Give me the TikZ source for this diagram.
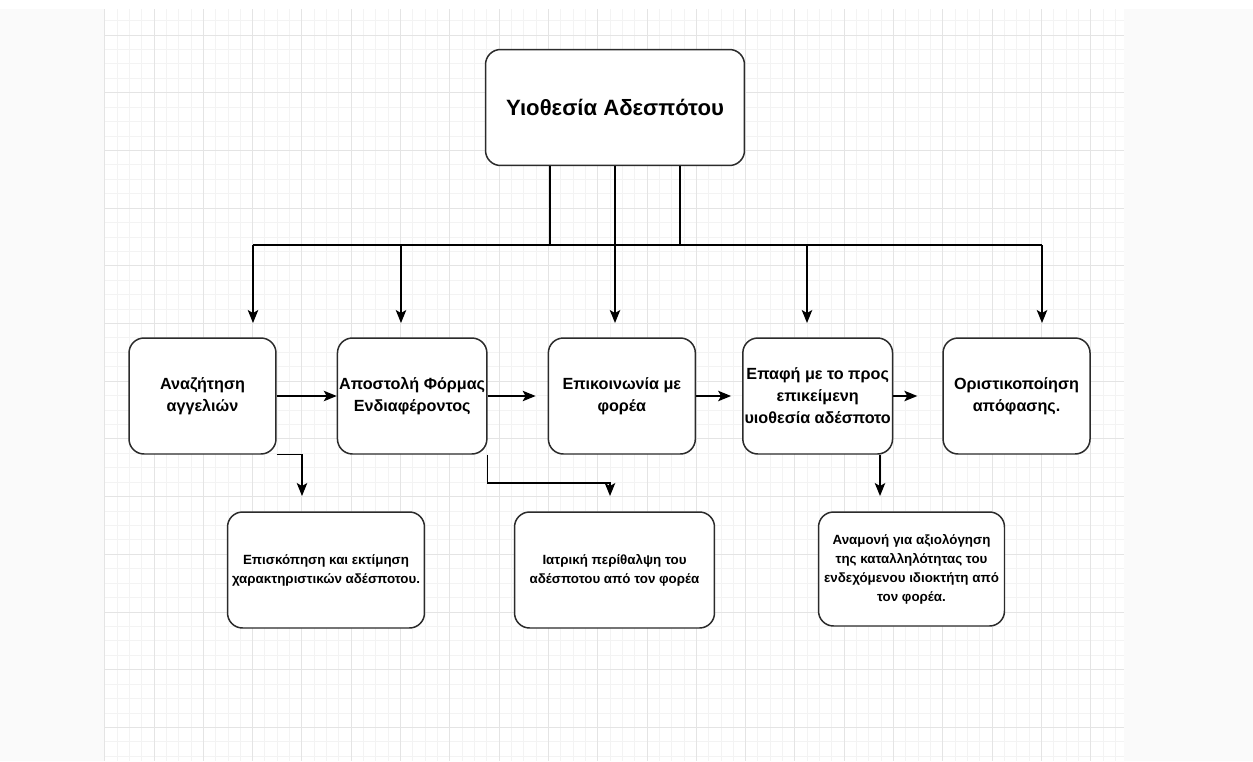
\documentclass[tikz,border=0pt]{standalone}
\usepackage{fontspec}
\setmainfont{Liberation Sans}
\usepackage{tikz}
\usetikzlibrary{arrows.meta,positioning}

\definecolor{gridminor}{HTML}{F3F3F3}
\definecolor{gridmajor}{HTML}{E4E4E4}
\definecolor{outside}{HTML}{FAFAFA}
\definecolor{boxline}{HTML}{2B2B2B}

\begin{document}
\begin{tikzpicture}[x=0.02cm, y=-0.02cm, node distance=1cm and 1cm,
    >={Stealth[length=0.26cm, width=0.21cm, inset=0.06cm]},
    every node/.style={align=center, text=black},
    box/.style={draw=boxline, line width=0.85pt, fill=white, rounded corners=0.3cm,
      minimum width=2.94cm, minimum height=2.32cm, inner sep=1pt,
      font=\fontsize{9.2}{12.5}\selectfont\bfseries},
    subbox/.style={box, minimum height=2.32cm, font=\fontsize{7.6}{10.8}\selectfont\bfseries},
    link/.style={draw=black, line width=0.7pt}]
      \useasboundingbox (0,0) rectangle (1253,761);
      % page background and drawing grid
      \fill[outside] (0,0) rectangle (1253,761);
      \fill[white] (0,0) rectangle (1253,9);
      \fill[white] (104.7,9) rectangle (1124,761);
      \foreach \k in {0,...,82}
        \draw[gridminor, line width=0.5pt] ({104.7+12.325*\k},9) -- ++(0,752);
      \foreach \k in {-1,...,50}
        \draw[gridminor, line width=0.5pt] (104.7,{35+14.425*\k}) -- (1124,{35+14.425*\k});
      \foreach \k in {0,...,20}
        \draw[gridmajor, line width=0.55pt] ({104.7+49.3*\k},9) -- ++(0,752);
      \foreach \k in {0,...,12}
        \draw[gridmajor, line width=0.55pt] (104.7,{35+57.7*\k}) -- (1124,{35+57.7*\k});

      \node[box, minimum width=5.18cm, minimum height=2.32cm,
        font=\fontsize{12.6}{15}\selectfont\bfseries] (adopt) at (615,107.5) {Υιοθεσία Αδεσπότου};

      \node[box] (search) at (202.5,396) {Αναζήτηση\\αγγελιών};
      \node[box] (form) [right=1.20cm of search] {Αποστολή Φόρμας\\Ενδιαφέροντος};
      \node[box] (contact) [right=1.20cm of form] {Επικοινωνία με\\φορέα};
      \node[box] (meet) [right=0.92cm of contact] {Επαφή με το προς\\επικείμενη\\υιοθεσία αδέσποτο};
      \node[box] (final) [right=0.98cm of meet] {Οριστικοποίηση\\απόφασης.};

      \node[subbox, minimum width=3.94cm] (review) at (326,570) {Επισκόπηση και εκτίμηση\\χαρακτηριστικών αδέσποτου.};
      \node[subbox, minimum width=4.0cm] (care) at (614.5,570) {Ιατρική περίθαλψη του\\αδέσποτου από τον φορέα};
      \node[subbox, minimum width=3.72cm, minimum height=2.28cm] (wait) at (911.5,569) {Αναμονή για αξιολόγηση\\της καταλληλότητας του\\ενδεχόμενου ιδιοκτήτη από\\τον φορέα.};

      % bus under the title
      \coordinate (b1) at (550,245);
      \coordinate (b2) at (615,245);
      \coordinate (b3) at (680,245);
      \coordinate (busL) at (253,245);
      \coordinate (busR) at (1042,245);
      \coordinate (k1) at (401,245);
      \coordinate (k2) at (807,245);
      \coordinate (t1) at (253,323);
      \coordinate (t2) at (401,323);
      \coordinate (t3) at (615,323);
      \coordinate (t4) at (807,323);
      \coordinate (t5) at (1042,323);

      \draw[link] (adopt.south -| b1) -- (b1);
      \draw[link] (adopt.south -| b2) -- (b2);
      \draw[link] (adopt.south -| b3) -- (b3);
      \draw[link] (busL) -- (busR);
      \draw[link, ->] (busL) -- (t1);
      \draw[link, ->] (k1) -- (t2);
      \draw[link, ->] (b2) -- (t3);
      \draw[link, ->] (k2) -- (t4);
      \draw[link, ->] (busR) -- (t5);

      \draw[link, ->] (search) -- (form);
      \draw[link, ->, shorten >=0.24cm] (form) -- (contact);
      \draw[link, ->, shorten >=0.22cm] (contact) -- (meet);
      \draw[link, ->, shorten >=0.5cm] (meet) -- (final);

      % side branches to the lower row
      \coordinate (r1) at (302,496);
      \coordinate (j2) at (610,483);
      \coordinate (r2) at (610,496);
      \coordinate (r3) at (880,496);
      \draw[link, ->] (search.south east) -| (r1);
      \draw[link, ->] (form.south east) |- (j2) -- (r2);
      \draw[link, ->] (meet.south -| r3) -- (r3);
    \end{tikzpicture}
\end{document}
